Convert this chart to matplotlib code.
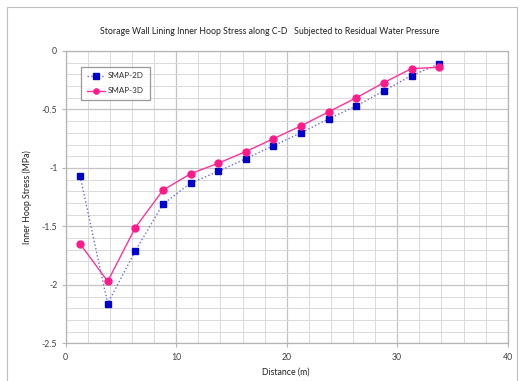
import matplotlib
matplotlib.use("Agg")
import matplotlib.pyplot as plt
from matplotlib.patches import Rectangle
from matplotlib.ticker import MultipleLocator

# distance along C-D (m) and inner hoop stress (MPa)
distance = [1.3, 3.8, 6.3, 8.8, 11.3, 13.8, 16.3, 18.8, 21.3, 23.8, 26.3, 28.8, 31.3, 33.8]
smap_2d = [-1.07, -2.16, -1.71, -1.31, -1.13, -1.03, -0.92, -0.81, -0.70, -0.58,
           -0.47, -0.34, -0.21, -0.11]
smap_3d = [-1.65, -1.97, -1.51, -1.19, -1.05, -0.96, -0.86, -0.75, -0.64, -0.52,
           -0.40, -0.27, -0.15, -0.14]

title = "Storage Wall Lining Inner Hoop Stress along C-D   Subjected to Residual Water Pressure"

plt.rcParams["font.family"] = ["Lato", "DejaVu Sans"]

W, H = 525, 381
fig = plt.figure(figsize=(W / 100, H / 100), dpi=100)
fig.patch.set_facecolor("white")

# outer chart frame
fig.add_artist(Rectangle((7 / W, -0.01), 510 / W, 1 - 7 / H + 0.01,
                         transform=fig.transFigure, fill=False,
                         edgecolor="#bfbfbf", linewidth=0.8))

ax = fig.add_axes([65.7 / W, 1 - 343.3 / H, 442 / W, 292.3 / H])

ax.plot(distance, smap_2d, linestyle=":", color="#6a6ae0", linewidth=1.0,
        marker="s", markersize=5, markerfacecolor="#0000cc",
        markeredgecolor="#0000cc", label="SMAP-2D", zorder=3)
ax.plot(distance, smap_3d, linestyle="-", color="#ff3399", linewidth=1.0,
        marker="o", markersize=5, markerfacecolor="#ff1a8c",
        markeredgecolor="#ff1a8c", label="SMAP-3D", zorder=4)

ax.set_xlim(0, 40)
ax.set_ylim(-2.5, 0)
ax.xaxis.set_major_locator(MultipleLocator(10))
ax.xaxis.set_minor_locator(MultipleLocator(2))
ax.yaxis.set_major_locator(MultipleLocator(0.5))
ax.yaxis.set_minor_locator(MultipleLocator(0.1))
ax.grid(which="major", color="#c4c4c4", linewidth=0.9)
ax.grid(which="minor", color="#dadada", linewidth=0.7)
ax.set_axisbelow(True)

for s in ax.spines.values():
    s.set_color("#b5b5b5")
    s.set_linewidth(0.9)

ax.tick_params(which="major", length=3, color="#b5b5b5", labelsize=6.3,
               labelcolor="#404040", pad=3)
ax.tick_params(which="minor", length=0)
ax.set_yticks([0, -0.5, -1, -1.5, -2, -2.5])
ax.set_yticklabels(["0", "-0.5", "-1", "-1.5", "-2", "-2.5"])
ax.tick_params(axis="x", pad=4)

fig.text(286 / W, 1 - 372 / H, "Distance (m)", ha="center", va="center",
         fontsize=6.3, color="#202020")
fig.text(27 / W, 1 - 197 / H, "Inner Hoop Stress (MPa)", ha="center", va="center",
         rotation=90, fontsize=6.3, color="#202020")
fig.text(270 / W, 1 - 32 / H, title, ha="center", va="center",
         fontsize=6.3, color="#202020")

leg = ax.legend(loc="upper left", bbox_to_anchor=((81.3 - 65.7) / 442, 1 - (66.7 - 51) / 292.3),
                fontsize=5.8, frameon=True, fancybox=False, handlelength=2.2,
                labelspacing=1.0, borderpad=0.7, handletextpad=0.4,
                markerscale=0.75, borderaxespad=0)
leg.get_frame().set_edgecolor("#808080")
leg.get_frame().set_linewidth(0.9)
for t in leg.get_texts():
    t.set_color("#303030")

fig.savefig("out.png", dpi=100)
